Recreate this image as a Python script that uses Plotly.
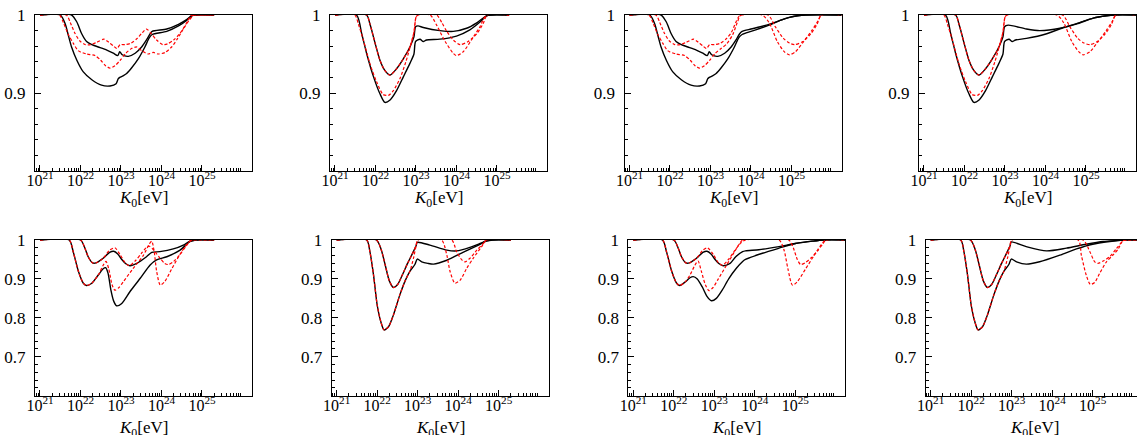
import plotly.graph_objects as go

# ---------------- data (x as log10 of K0 in eV, y as plotted value) ----------------
P1_BU_X = [21.0, 21.78, 21.91, 22.03, 22.15, 22.28, 22.44, 22.65, 22.81, 22.92, 22.97, 23.03, 23.18, 23.35, 23.51, 23.63, 23.72, 23.77, 24.13, 24.42, 24.62, 24.74, 24.85, 25.3]
P1_BU_Y = [1, 1, 0.991, 0.976, 0.966, 0.962, 0.959, 0.955, 0.951, 0.948, 0.953, 0.949, 0.947, 0.951, 0.959, 0.968, 0.976, 0.979, 0.982, 0.988, 0.994, 0.999, 1, 1]
P1_BL_X = [21.0, 21.50, 21.62, 21.70, 21.78, 21.91, 22.07, 22.28, 22.52, 22.73, 22.88, 22.93, 22.97, 23.05, 23.14, 23.26, 23.43, 23.59, 23.70, 23.77, 24.13, 24.42, 24.62, 24.74, 24.85, 25.3]
P1_BL_Y = [1, 1, 0.989, 0.974, 0.959, 0.942, 0.927, 0.917, 0.910, 0.909, 0.912, 0.918, 0.920, 0.922, 0.925, 0.932, 0.944, 0.959, 0.971, 0.975, 0.979, 0.986, 0.993, 0.999, 1, 1]
P1_RU_X = [21.0, 21.65, 21.75, 21.85, 21.98, 22.12, 22.25, 22.40, 22.58, 22.70, 22.82, 22.90, 22.98, 23.10, 23.25, 23.40, 23.52, 23.63, 23.75, 23.88, 24.03, 24.15, 24.30, 24.45, 24.60, 24.72, 24.8, 25.3]
P1_RU_Y = [1, 1, 0.990, 0.978, 0.967, 0.962, 0.962, 0.965, 0.969, 0.965, 0.960, 0.957, 0.962, 0.962, 0.964, 0.970, 0.977, 0.982, 0.976, 0.968, 0.962, 0.963, 0.968, 0.976, 0.988, 0.999, 1, 1]
P1_RL_X = [21.0, 21.48, 21.58, 21.70, 21.82, 21.95, 22.15, 22.36, 22.50, 22.62, 22.73, 22.85, 22.98, 23.12, 23.26, 23.39, 23.52, 23.67, 23.80, 23.92, 24.09, 24.25, 24.40, 24.55, 24.68, 24.78, 24.85, 25.3]
P1_RL_Y = [1, 1, 0.990, 0.975, 0.964, 0.954, 0.950, 0.948, 0.942, 0.935, 0.932, 0.935, 0.942, 0.951, 0.957, 0.959, 0.954, 0.950, 0.952, 0.950, 0.952, 0.959, 0.970, 0.983, 0.993, 0.999, 1, 1]

P2_BU_X = [21.0, 21.78, 21.86, 21.99, 22.11, 22.23, 22.36, 22.52, 22.69, 22.85, 22.95, 22.99, 23.05, 23.18, 23.59, 23.92, 24.25, 24.50, 24.74, 24.85, 25.3]
P2_BU_Y = [1, 1, 0.989, 0.964, 0.942, 0.929, 0.923, 0.931, 0.944, 0.959, 0.972, 0.985, 0.986, 0.984, 0.980, 0.979, 0.983, 0.990, 0.999, 1, 1]
P2_BL_X = [21.0, 21.53, 21.66, 21.78, 21.95, 22.11, 22.23, 22.36, 22.52, 22.69, 22.85, 22.95, 22.99, 23.10, 23.18, 23.26, 23.59, 24.00, 24.33, 24.58, 24.74, 24.85, 25.3]
P2_BL_Y = [1, 1, 0.976, 0.951, 0.921, 0.899, 0.888, 0.891, 0.903, 0.921, 0.938, 0.950, 0.966, 0.969, 0.966, 0.968, 0.969, 0.973, 0.981, 0.991, 0.999, 1, 1]
P2_RU_X = [21.0, 21.78, 21.86, 21.99, 22.11, 22.23, 22.36, 22.52, 22.69, 22.85, 22.95, 23.00, 23.05, 23.51, 23.64, 23.76, 23.92, 24.09, 24.29, 24.50, 24.66, 24.76, 25.3]
P2_RU_Y = [1, 1, 0.989, 0.964, 0.942, 0.929, 0.923, 0.931, 0.944, 0.959, 0.978, 0.997, 1, 1, 0.990, 0.979, 0.968, 0.962, 0.966, 0.976, 0.989, 1, 1]
P2_RL_X = [21.0, 21.49, 21.58, 21.70, 21.86, 22.03, 22.19, 22.32, 22.44, 22.60, 22.75, 22.85, 22.95, 23.00, 23.05, 23.35, 23.51, 23.72, 23.92, 24.00, 24.17, 24.37, 24.58, 24.74, 25.3]
P2_RL_Y = [1, 1, 0.988, 0.968, 0.938, 0.914, 0.898, 0.897, 0.903, 0.918, 0.940, 0.958, 0.978, 0.997, 1, 1, 0.987, 0.966, 0.951, 0.948, 0.953, 0.968, 0.985, 1, 1]

P3_BU_X = [21.0, 21.78, 21.91, 22.03, 22.15, 22.28, 22.44, 22.65, 22.81, 22.92, 22.97, 23.03, 23.18, 23.35, 23.51, 23.63, 23.72, 23.78, 24.00, 24.23, 24.50, 24.72, 24.95, 25.15, 25.35, 26.3]
P3_BU_Y = [1, 1, 0.991, 0.976, 0.966, 0.962, 0.959, 0.955, 0.951, 0.948, 0.953, 0.949, 0.947, 0.951, 0.959, 0.968, 0.976, 0.979, 0.982, 0.985, 0.989, 0.993, 0.997, 0.999, 1, 1]
P3_BL_X = [21.0, 21.50, 21.62, 21.70, 21.78, 21.91, 22.07, 22.28, 22.52, 22.73, 22.88, 22.93, 22.97, 23.05, 23.14, 23.26, 23.43, 23.59, 23.70, 23.78, 24.00, 24.23, 24.50, 24.72, 24.95, 25.15, 25.35, 26.3]
P3_BL_Y = [1, 1, 0.989, 0.974, 0.959, 0.942, 0.927, 0.917, 0.910, 0.909, 0.912, 0.918, 0.920, 0.922, 0.925, 0.932, 0.944, 0.959, 0.971, 0.975, 0.979, 0.983, 0.988, 0.993, 0.997, 0.999, 1, 1]
P3_RU_X = [21.0, 21.65, 21.75, 21.85, 21.98, 22.12, 22.25, 22.40, 22.58, 22.70, 22.82, 22.90, 22.98, 23.10, 23.25, 23.40, 23.52, 23.62, 23.70, 23.77, 24.42, 24.60, 24.80, 24.95, 25.08, 25.28, 25.48, 25.63, 25.74, 26.3]
P3_RU_Y = [1, 1, 0.990, 0.978, 0.967, 0.962, 0.962, 0.965, 0.969, 0.965, 0.960, 0.957, 0.962, 0.962, 0.964, 0.970, 0.978, 0.990, 0.998, 1, 1, 0.985, 0.970, 0.964, 0.962, 0.966, 0.976, 0.988, 1, 1]
P3_RL_X = [21.0, 21.48, 21.58, 21.70, 21.82, 21.95, 22.15, 22.36, 22.50, 22.62, 22.73, 22.85, 22.98, 23.12, 23.26, 23.40, 23.55, 23.66, 23.75, 24.28, 24.45, 24.65, 24.82, 24.95, 25.10, 25.30, 25.50, 25.65, 25.74, 26.3]
P3_RL_Y = [1, 1, 0.990, 0.975, 0.964, 0.954, 0.950, 0.948, 0.942, 0.935, 0.932, 0.935, 0.942, 0.951, 0.957, 0.963, 0.975, 0.990, 1, 1, 0.990, 0.966, 0.953, 0.949, 0.953, 0.966, 0.980, 0.992, 1, 1]

P4_BU_X = [21.0, 21.78, 21.86, 21.99, 22.11, 22.23, 22.36, 22.52, 22.69, 22.85, 22.95, 22.99, 23.08, 23.53, 23.86, 24.36, 24.77, 25.18, 25.51, 25.7, 26.3]
P4_BU_Y = [1, 1, 0.989, 0.964, 0.942, 0.929, 0.923, 0.931, 0.944, 0.959, 0.972, 0.985, 0.987, 0.982, 0.980, 0.983, 0.989, 0.996, 0.999, 1, 1]
P4_BL_X = [21.0, 21.53, 21.66, 21.78, 21.95, 22.11, 22.23, 22.36, 22.52, 22.69, 22.85, 22.95, 22.99, 23.10, 23.18, 23.26, 23.53, 24.03, 24.45, 24.80, 25.18, 25.51, 25.7, 26.3]
P4_BL_Y = [1, 1, 0.976, 0.951, 0.921, 0.899, 0.888, 0.891, 0.903, 0.921, 0.938, 0.950, 0.966, 0.969, 0.966, 0.968, 0.970, 0.976, 0.984, 0.989, 0.996, 0.999, 1, 1]
P4_RU_X = [21.0, 21.78, 21.86, 21.99, 22.11, 22.23, 22.36, 22.52, 22.69, 22.85, 22.95, 23.00, 23.05, 24.42, 24.60, 24.80, 24.95, 25.10, 25.28, 25.48, 25.63, 25.74, 26.3]
P4_RU_Y = [1, 1, 0.989, 0.964, 0.942, 0.929, 0.923, 0.931, 0.944, 0.959, 0.978, 0.997, 1, 1, 0.985, 0.970, 0.964, 0.962, 0.966, 0.976, 0.988, 1, 1]
P4_RL_X = [21.0, 21.49, 21.58, 21.70, 21.86, 22.03, 22.19, 22.32, 22.44, 22.60, 22.75, 22.85, 22.95, 23.00, 23.05, 24.28, 24.45, 24.65, 24.82, 24.93, 25.10, 25.30, 25.50, 25.65, 25.74, 26.3]
P4_RL_Y = [1, 1, 0.988, 0.968, 0.938, 0.914, 0.898, 0.897, 0.903, 0.918, 0.940, 0.958, 0.978, 0.997, 1, 1, 0.990, 0.966, 0.953, 0.949, 0.953, 0.966, 0.980, 0.992, 1, 1]

P5_BU_X = [21.0, 22.00, 22.11, 22.19, 22.30, 22.40, 22.56, 22.72, 22.82, 22.92, 23.02, 23.12, 23.22, 23.39, 23.63, 23.76, 23.96, 24.29, 24.54, 24.70, 24.85, 25.3]
P5_BU_Y = [1, 1, 0.979, 0.957, 0.941, 0.942, 0.953, 0.968, 0.971, 0.964, 0.950, 0.939, 0.934, 0.940, 0.957, 0.968, 0.970, 0.977, 0.987, 0.997, 1, 1]
P5_BL_X = [21.0, 21.72, 21.82, 21.95, 22.07, 22.15, 22.28, 22.44, 22.56, 22.62, 22.68, 22.75, 22.82, 22.89, 23.02, 23.22, 23.47, 23.72, 23.88, 24.13, 24.46, 24.70, 24.85, 25.3]
P5_BL_Y = [1, 1, 0.970, 0.919, 0.889, 0.883, 0.889, 0.910, 0.926, 0.929, 0.915, 0.872, 0.843, 0.831, 0.837, 0.867, 0.901, 0.936, 0.949, 0.957, 0.974, 0.996, 1, 1]
P5_RU_X = [21.0, 22.00, 22.11, 22.19, 22.30, 22.40, 22.56, 22.72, 22.85, 22.98, 23.10, 23.20, 23.35, 23.50, 23.62, 23.70, 23.80, 23.95, 24.08, 24.17, 24.30, 24.45, 24.60, 24.72, 24.8, 25.3]
P5_RU_Y = [1, 1, 0.979, 0.957, 0.941, 0.942, 0.953, 0.974, 0.980, 0.962, 0.942, 0.934, 0.946, 0.965, 0.980, 0.984, 0.975, 0.955, 0.940, 0.937, 0.945, 0.962, 0.983, 0.998, 1, 1]
P5_RL_X = [21.0, 21.72, 21.82, 21.95, 22.07, 22.15, 22.28, 22.44, 22.56, 22.63, 22.70, 22.78, 22.85, 22.95, 23.06, 23.30, 23.55, 23.70, 23.76, 23.82, 23.88, 23.97, 24.08, 24.25, 24.45, 24.62, 24.75, 25.3]
P5_RL_Y = [1, 1, 0.970, 0.919, 0.889, 0.883, 0.889, 0.910, 0.935, 0.945, 0.925, 0.885, 0.871, 0.878, 0.893, 0.927, 0.960, 0.990, 0.997, 0.970, 0.920, 0.884, 0.893, 0.925, 0.962, 0.988, 1, 1]

P6_BU_X = [21.0, 21.98, 22.10, 22.20, 22.30, 22.40, 22.50, 22.62, 22.75, 22.87, 22.96, 22.99, 23.30, 23.72, 23.96, 24.29, 24.54, 24.70, 24.85, 25.3]
P6_BU_Y = [1, 1, 0.975, 0.935, 0.895, 0.878, 0.885, 0.910, 0.940, 0.965, 0.985, 0.994, 0.987, 0.974, 0.972, 0.981, 0.991, 0.998, 1, 1]
P6_BL_X = [21.0, 21.74, 21.82, 21.91, 22.00, 22.09, 22.17, 22.28, 22.40, 22.56, 22.69, 22.81, 22.93, 22.99, 23.10, 23.25, 23.39, 23.72, 24.13, 24.46, 24.70, 24.85, 25.3]
P6_BL_Y = [1, 1, 0.970, 0.910, 0.833, 0.790, 0.769, 0.777, 0.807, 0.859, 0.895, 0.920, 0.937, 0.951, 0.944, 0.940, 0.938, 0.948, 0.969, 0.985, 0.997, 1, 1]
P6_RU_X = [21.0, 21.98, 22.10, 22.20, 22.30, 22.40, 22.50, 22.62, 22.75, 22.87, 22.96, 23.00, 23.84, 23.96, 24.09, 24.17, 24.29, 24.46, 24.62, 24.70, 25.3]
P6_RU_Y = [1, 1, 0.975, 0.935, 0.895, 0.878, 0.885, 0.910, 0.940, 0.965, 0.985, 1, 1, 0.970, 0.949, 0.944, 0.953, 0.974, 0.991, 1, 1]
P6_RL_X = [21.0, 21.74, 21.82, 21.91, 22.00, 22.09, 22.17, 22.28, 22.40, 22.56, 22.69, 22.81, 22.90, 22.96, 23.00, 23.59, 23.72, 23.80, 23.92, 24.05, 24.21, 24.37, 24.58, 24.70, 25.3]
P6_RL_Y = [1, 1, 0.970, 0.910, 0.833, 0.790, 0.769, 0.777, 0.807, 0.859, 0.895, 0.920, 0.955, 0.985, 1, 1, 0.961, 0.919, 0.889, 0.897, 0.927, 0.953, 0.983, 1, 1]

P7_BU_X = [21.0, 22.00, 22.11, 22.19, 22.30, 22.40, 22.56, 22.72, 22.82, 22.92, 23.02, 23.12, 23.22, 23.39, 23.53, 23.70, 23.77, 24.10, 24.60, 25.00, 25.42, 25.7, 26.3]
P7_BU_Y = [1, 1, 0.979, 0.957, 0.941, 0.942, 0.953, 0.968, 0.971, 0.964, 0.950, 0.939, 0.934, 0.940, 0.957, 0.970, 0.972, 0.975, 0.983, 0.991, 0.997, 1, 1]
P7_BL_X = [21.0, 21.72, 21.82, 21.95, 22.07, 22.15, 22.28, 22.40, 22.48, 22.58, 22.70, 22.82, 22.93, 23.05, 23.20, 23.36, 23.55, 23.70, 23.77, 24.19, 24.60, 25.00, 25.42, 25.7, 26.3]
P7_BL_Y = [1, 1, 0.970, 0.919, 0.889, 0.883, 0.892, 0.903, 0.906, 0.900, 0.880, 0.855, 0.844, 0.850, 0.872, 0.901, 0.928, 0.945, 0.950, 0.966, 0.979, 0.991, 0.997, 1, 1]
P7_RU_X = [21.0, 22.00, 22.11, 22.19, 22.30, 22.40, 22.56, 22.72, 22.83, 22.98, 23.10, 23.20, 23.35, 23.50, 23.65, 23.77, 24.84, 24.95, 25.05, 25.13, 25.25, 25.40, 25.55, 25.68, 25.76, 26.3]
P7_RU_Y = [1, 1, 0.979, 0.957, 0.941, 0.942, 0.953, 0.974, 0.980, 0.962, 0.942, 0.935, 0.950, 0.972, 0.992, 1, 1, 0.980, 0.950, 0.937, 0.942, 0.955, 0.972, 0.990, 1, 1]
P7_RL_X = [21.0, 21.72, 21.82, 21.95, 22.07, 22.15, 22.28, 22.40, 22.52, 22.60, 22.68, 22.78, 22.87, 22.97, 23.10, 23.30, 23.50, 23.62, 23.70, 24.60, 24.72, 24.82, 24.93, 25.05, 25.25, 25.45, 25.62, 25.75, 26.3]
P7_RL_Y = [1, 1, 0.970, 0.919, 0.889, 0.883, 0.892, 0.910, 0.935, 0.946, 0.920, 0.885, 0.870, 0.878, 0.900, 0.935, 0.970, 0.990, 1, 1, 0.975, 0.925, 0.884, 0.893, 0.925, 0.958, 0.985, 1, 1]

P8_BU_X = [21.0, 21.98, 22.10, 22.20, 22.30, 22.40, 22.50, 22.62, 22.75, 22.87, 22.96, 22.99, 23.36, 23.86, 24.35, 24.84, 25.26, 25.67, 25.8, 26.3]
P8_BU_Y = [1, 1, 0.975, 0.935, 0.895, 0.878, 0.885, 0.910, 0.940, 0.965, 0.985, 0.995, 0.983, 0.972, 0.979, 0.989, 0.996, 0.999, 1, 1]
P8_BL_X = [21.0, 21.74, 21.82, 21.91, 22.00, 22.09, 22.17, 22.28, 22.40, 22.56, 22.69, 22.81, 22.93, 22.99, 23.12, 23.36, 23.69, 24.19, 24.60, 25.00, 25.42, 25.75, 26.3]
P8_BL_Y = [1, 1, 0.970, 0.910, 0.833, 0.790, 0.769, 0.777, 0.807, 0.859, 0.895, 0.920, 0.937, 0.951, 0.944, 0.938, 0.944, 0.961, 0.977, 0.989, 0.996, 1, 1]
P8_RU_X = [21.0, 21.98, 22.10, 22.20, 22.30, 22.40, 22.50, 22.62, 22.75, 22.87, 22.96, 23.00, 24.76, 24.93, 25.05, 25.13, 25.26, 25.42, 25.58, 25.75, 25.8, 26.3]
P8_RU_Y = [1, 1, 0.975, 0.935, 0.895, 0.878, 0.885, 0.910, 0.940, 0.965, 0.985, 1, 1, 0.970, 0.944, 0.940, 0.946, 0.957, 0.977, 0.998, 1, 1]
P8_RL_X = [21.0, 21.74, 21.82, 21.91, 22.00, 22.09, 22.17, 22.28, 22.40, 22.56, 22.69, 22.81, 22.90, 22.96, 23.00, 24.64, 24.72, 24.84, 24.94, 25.05, 25.17, 25.34, 25.50, 25.63, 25.75, 26.3]
P8_RL_Y = [1, 1, 0.970, 0.910, 0.833, 0.790, 0.769, 0.777, 0.807, 0.859, 0.895, 0.920, 0.955, 0.985, 1, 1, 0.961, 0.910, 0.886, 0.891, 0.914, 0.944, 0.961, 0.977, 0.998, 1]

X_TICK_EXP = [21, 22, 23, 24, 25]
Y_TICKS_TOP = [0.9, 1.0]
Y_TICKS_BOTTOM = [0.7, 0.8, 0.9, 1.0]
Y_LABELS_TOP = ["0.9", "1"]
Y_LABELS_BOTTOM = ["0.7", "0.8", "0.9", "1"]
X_LABEL = "<i>K</i><sub>0</sub>[eV]"

# ---------------- layout geometry (pixels) ----------------
W, H = 1137, 435
PX_PER_DEC = 40.5
TOP_LEFT = [35, 330, 624.5, 919]
BOT_LEFT = [35, 331.7, 628.3, 925.7]
PANEL_W = 217
TOP_Y = (15, 171)
BOT_Y = (240, 395.7)
XMIN = 20.877

FONT = "Liberation Serif"

curves = [
    (P1_BU_X, P1_BU_Y, P1_BL_X, P1_BL_Y, P1_RU_X, P1_RU_Y, P1_RL_X, P1_RL_Y),
    (P2_BU_X, P2_BU_Y, P2_BL_X, P2_BL_Y, P2_RU_X, P2_RU_Y, P2_RL_X, P2_RL_Y),
    (P3_BU_X, P3_BU_Y, P3_BL_X, P3_BL_Y, P3_RU_X, P3_RU_Y, P3_RL_X, P3_RL_Y),
    (P4_BU_X, P4_BU_Y, P4_BL_X, P4_BL_Y, P4_RU_X, P4_RU_Y, P4_RL_X, P4_RL_Y),
    (P5_BU_X, P5_BU_Y, P5_BL_X, P5_BL_Y, P5_RU_X, P5_RU_Y, P5_RL_X, P5_RL_Y),
    (P6_BU_X, P6_BU_Y, P6_BL_X, P6_BL_Y, P6_RU_X, P6_RU_Y, P6_RL_X, P6_RL_Y),
    (P7_BU_X, P7_BU_Y, P7_BL_X, P7_BL_Y, P7_RU_X, P7_RU_Y, P7_RL_X, P7_RL_Y),
    (P8_BU_X, P8_BU_Y, P8_BL_X, P8_BL_Y, P8_RU_X, P8_RU_Y, P8_RL_X, P8_RL_Y),
]

fig = go.Figure()
minor_x = [k * 10.0 ** e for e in range(20, 27) for k in range(2, 10)]

annotations = []
for i, c in enumerate(curves):
    n = i + 1
    xa = "x" if n == 1 else f"x{n}"
    ya = "y" if n == 1 else f"y{n}"
    top = i < 4
    left = (TOP_LEFT if top else BOT_LEFT)[i % 4]
    right = min(left + PANEL_W, W)
    y0, y1 = TOP_Y if top else BOT_Y
    xmax = XMIN + (right - left) / PX_PER_DEC

    bux, buy, blx, bly, rux, ruy, rlx, rly = c
    for xs, ys in ((bux, buy), (blx, bly)):
        fig.add_trace(go.Scatter(x=[10.0 ** v for v in xs], y=ys, xaxis=xa, yaxis=ya,
                                 mode="lines", line=dict(color="black", width=1.4, shape="spline", smoothing=0.7),
                                 showlegend=False, hoverinfo="skip"))
    for xs, ys in ((rux, ruy), (rlx, rly)):
        fig.add_trace(go.Scatter(x=[10.0 ** v for v in xs], y=ys, xaxis=xa, yaxis=ya,
                                 mode="lines", line=dict(color="#ff0000", width=1.2, dash="3px,2px", shape="spline", smoothing=0.7),
                                 showlegend=False, hoverinfo="skip"))

    if top:
        ytv, ytt = Y_TICKS_TOP, Y_LABELS_TOP
        yrange = [0.8, 1.0]
        yminor = [round(0.8 + 0.02 * k, 2) for k in range(1, 10)]
    else:
        ytv, ytt = Y_TICKS_BOTTOM, Y_LABELS_BOTTOM
        yrange = [0.6, 1.0]
        yminor = [round(0.6 + 0.02 * k, 2) for k in range(1, 20)]

    xkey = "xaxis" if n == 1 else f"xaxis{n}"
    ykey = "yaxis" if n == 1 else f"yaxis{n}"
    fig.update_layout(**{
        xkey: dict(type="log", range=[XMIN, xmax], domain=[left / W, right / W], anchor=ya,
                   tickmode="array", tickvals=[10.0 ** e for e in X_TICK_EXP],
                   ticktext=[f"10<sup>{e}</sup>" for e in X_TICK_EXP],
                   ticks="inside", ticklen=6, tickwidth=1, tickcolor="black",
                   minor=dict(tickmode="array", tickvals=minor_x, ticks="inside", ticklen=3, tickcolor="black", showgrid=False),
                   showline=True, linecolor="black", linewidth=1, mirror=True,
                   showgrid=False, zeroline=False, automargin=False, ticklabelstandoff=-5,
                   tickfont=dict(family=FONT, size=16, color="black")),
        ykey: dict(range=yrange, domain=[1 - y1 / H, 1 - y0 / H], anchor=xa,
                   tickmode="array", tickvals=ytv, ticktext=ytt,
                   ticks="inside", ticklen=6, tickwidth=1, tickcolor="black",
                   minor=dict(tickmode="array", tickvals=yminor, ticks="inside", ticklen=3, tickcolor="black", showgrid=False),
                   showline=True, linecolor="black", linewidth=1, mirror=True,
                   showgrid=False, zeroline=False, ticklabelstandoff=5, automargin=False,
                   tickfont=dict(family=FONT, size=17, color="black")),
    })
    annotations.append(dict(text=X_LABEL, xref="paper", yref="paper",
                            x=(left + left + PANEL_W) / 2 / W,
                            y=1 - (199 if top else 429) / H,
                            xanchor="center", yanchor="middle", showarrow=False,
                            font=dict(family=FONT, size=17, color="black")))

fig.update_layout(width=W, height=H, autosize=False, margin=dict(l=0, r=0, t=0, b=0, pad=0),
                  paper_bgcolor="white", plot_bgcolor="white",
                  annotations=annotations, showlegend=False)

fig.write_html("out.html", config={"responsive": False, "displayModeBar": False},
               post_script="document.body.style.margin='0';document.body.style.padding='0';document.body.style.overflow='hidden';")
